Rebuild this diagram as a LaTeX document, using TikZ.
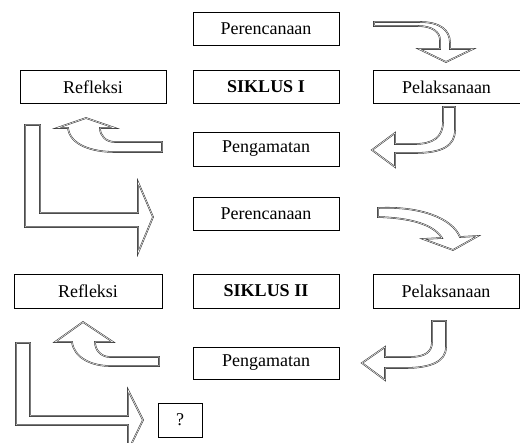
\documentclass[tikz,border=0pt]{standalone}
\usepackage{fontspec}
\setmainfont{Liberation Serif}
\begin{document}
\begin{tikzpicture}[x=1pt, y=-1pt, font=\fontsize{18}{22}\selectfont,
    box/.style={draw, line width=0.8pt, minimum width=146pt, minimum height=33pt, inner sep=0pt},
    blockarrow/.style={draw=black!80, double=white, double distance=0.5pt, line width=0.55pt, line join=miter}]
    \useasboundingbox (0,0) rectangle (520,443);
    \node[box] (per1) at (266,28.5) {Perencanaan};
    \node[box] (ref1) at (93,87) {Refleksi};
    \node[box] (sik1) at (266,87) {\textbf{SIKLUS I}};
    \node[box, minimum width=147pt] (pel1) at (446.5,87) {Pelaksanaan};
    \node[box, minimum height=34pt] (pen1) at (266,149) {Pengamatan};
    \node[box] (per2) at (266,213.5) {Perencanaan};
    \node[box, minimum width=148pt, minimum height=34pt] (ref2) at (88,291) {Refleksi};
    \node[box, minimum height=34pt] (sik2) at (266,291) {\textbf{SIKLUS II}};
    \node[box, minimum height=34pt] (pel2) at (446,291) {Pelaksanaan};
    \node[box, minimum height=32pt] (pen2) at (266,363) {Pengamatan};
    \node[box, minimum width=44pt, minimum height=34pt] (q) at (180,420) {?};
    \draw[blockarrow] (374,22) -- (420,22) .. controls (440,22) and (450,30) .. (450,43) -- (450,49) -- (473,49) -- (446,62) -- (419,49) -- (440,49) -- (440,40) .. controls (440,32) and (432,26) .. (418,26) -- (374,26) -- cycle;
    \draw[blockarrow] (443,107) -- (455,107) -- (455,130) .. controls (455,146) and (442,153) .. (415,153) -- (395,153) -- (395,167) -- (372,150) -- (395,133) -- (395,144) -- (415,144) .. controls (433,144) and (443,137) .. (443,122) -- cycle;
    \draw[blockarrow] (162,142) -- (115,142) .. controls (106,142) and (100,136) .. (100,128) -- (115,128) -- (86,118) -- (57,128) -- (68,128) .. controls (70,145) and (92,152) .. (115,152) -- (162,152) -- cycle;
    \draw[blockarrow] (25,125) -- (40,125) -- (40,213) -- (138,213) -- (138,182) -- (153,217) -- (138,253) -- (138,227) -- (25,227) -- cycle;
    \draw[blockarrow] (378,208) .. controls (420,206) and (452,218) .. (460,237) -- (478,236) -- (453,250) -- (423,239) -- (442,238) .. controls (433,224) and (410,218) .. (378,217) -- cycle;
    \draw[blockarrow] (432,321) -- (446,321) -- (446,347) .. controls (446,362) and (430,368) .. (405,368) -- (385,368) -- (385,380) -- (362,363) -- (385,347) -- (385,357) -- (410,357) .. controls (425,357) and (432,352) .. (432,342) -- cycle;
    \draw[blockarrow] (159,357) -- (110,357) .. controls (101,357) and (95,350) .. (95,342) -- (113,342) -- (83,322) -- (55,342) -- (72,342) .. controls (74,358) and (92,366) .. (110,366) -- (159,366) -- cycle;
    \draw[blockarrow] (16,343) -- (30,343) -- (30,416) -- (128,416) -- (128,390) -- (143,420) -- (128,451) -- (128,425) -- (16,425) -- cycle;
\end{tikzpicture}
\end{document}
